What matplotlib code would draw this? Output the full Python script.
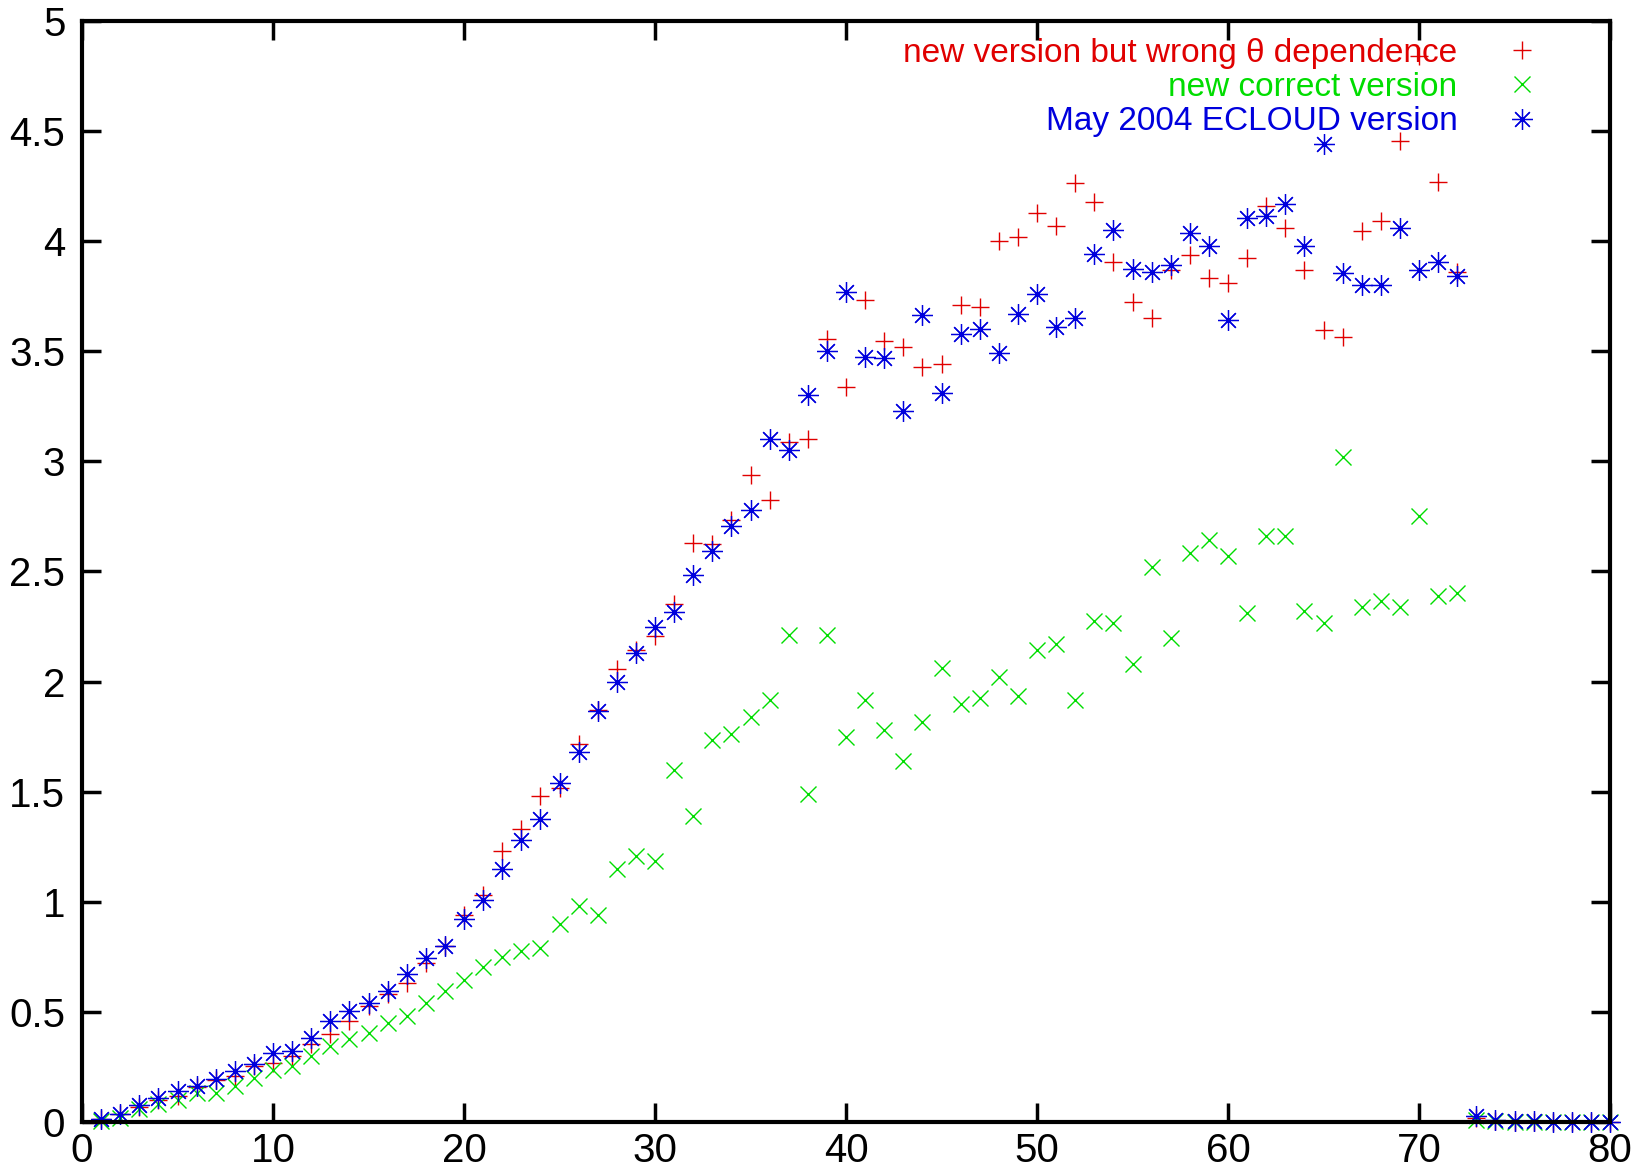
import matplotlib

matplotlib.use("Agg")
import matplotlib.pyplot as plt
import numpy as np

plt.rcParams["font.family"] = ["Liberation Sans", "DejaVu Sans"]

# bunch index 1..80
x = np.arange(1, 81)

wrong_theta = [
    0.015, 0.035, 0.07, 0.10, 0.12, 0.16, 0.19, 0.21, 0.255, 0.27,
    0.30, 0.355, 0.40, 0.46, 0.525, 0.58, 0.63, 0.72, 0.80, 0.94,
    1.03, 1.23, 1.33, 1.48, 1.515, 1.715, 1.87, 2.055, 2.145, 2.205,
    2.35, 2.63, 2.625, 2.735, 2.94, 2.825, 3.09, 3.10, 3.555, 3.34,
    3.735, 3.545, 3.52, 3.43, 3.44, 3.71, 3.70, 4.00, 4.02, 4.13,
    4.07, 4.265, 4.18, 3.905, 3.725, 3.65, 3.87, 3.935, 3.835, 3.81,
    3.925, 4.16, 4.06, 3.87, 3.595, 3.565, 4.045, 4.09, 4.455, 4.84,
    4.27, 3.86, 0.02, 0.005, 0.0, 0.0, 0.0, 0.0, 0.0, 0.0,
]

correct = [
    0.005, 0.02, 0.06, 0.08, 0.10, 0.13, 0.13, 0.165, 0.20, 0.235,
    0.255, 0.30, 0.345, 0.375, 0.405, 0.45, 0.48, 0.54, 0.595, 0.645,
    0.705, 0.75, 0.775, 0.79, 0.90, 0.98, 0.94, 1.15, 1.21, 1.185,
    1.60, 1.39, 1.735, 1.76, 1.84, 1.915, 2.21, 1.49, 2.21, 1.75,
    1.915, 1.78, 1.64, 1.815, 2.06, 1.90, 1.925, 2.02, 1.935, 2.145,
    2.17, 1.915, 2.275, 2.265, 2.08, 2.52, 2.20, 2.585, 2.645, 2.57,
    2.31, 2.66, 2.66, 2.32, 2.265, 3.02, 2.34, 2.365, 2.34, 2.75,
    2.39, 2.40, 0.01, 0.005, 0.0, 0.0, 0.0, 0.0, 0.0, 0.0,
]

ecloud_2004 = [
    0.015, 0.038, 0.075, 0.11, 0.14, 0.165, 0.195, 0.23, 0.265, 0.315,
    0.32, 0.38, 0.46, 0.505, 0.54, 0.595, 0.67, 0.745, 0.80, 0.92,
    1.01, 1.15, 1.28, 1.375, 1.54, 1.68, 1.865, 2.00, 2.13, 2.25,
    2.315, 2.485, 2.595, 2.705, 2.78, 3.10, 3.05, 3.30, 3.50, 3.77,
    3.475, 3.47, 3.23, 3.665, 3.31, 3.58, 3.60, 3.49, 3.67, 3.76,
    3.61, 3.65, 3.94, 4.05, 3.875, 3.86, 3.89, 4.035, 3.98, 3.64,
    4.105, 4.115, 4.17, 3.98, 4.44, 3.855, 3.80, 3.80, 4.06, 3.87,
    3.905, 3.84, 0.025, 0.008, 0.005, 0.003, 0.0, 0.0, 0.0, 0.0,
]

labels = ["new version but wrong \u03b8 dependence",
          "new correct version",
          "May 2004 ECLOUD version"]
colors = ["#e00000", "#00dd00", "#0000dd"]

fig = plt.figure(figsize=(16.5, 11.72), dpi=100)
ax = fig.add_axes([0.0497, 0.0427, 0.9261, 0.9394])

ax.plot(x, wrong_theta, ls="none", marker="+", ms=13, mew=1.0,
        color=colors[0], label=labels[0], clip_on=False)
ax.plot(x, correct, ls="none", marker="x", ms=11, mew=1.0,
        color=colors[1], label=labels[1], clip_on=False)
ax.plot(x, ecloud_2004, ls="none", marker=(8, 2, 0), ms=15, mew=0.9,
        color=colors[2], label=labels[2], clip_on=False)

ax.set_xlim(0, 80)
ax.set_ylim(0, 5)
ax.set_xticks(np.arange(0, 81, 10))
ax.set_yticks(np.arange(0, 5.01, 0.5))
ax.set_yticklabels(["0", "0.5", "1", "1.5", "2", "2.5", "3", "3.5", "4", "4.5", "5"])
ax.tick_params(direction="in", length=14, width=2.5, labelsize=29,
               top=True, right=True)
ax.tick_params(axis="y", pad=12)
ax.tick_params(axis="x", pad=7)
for s in ax.spines.values():
    s.set_linewidth(3)

leg = ax.legend(loc="upper right", markerfirst=False, frameon=False,
                fontsize=24, labelspacing=0.1, handlelength=1.2,
                handletextpad=1.35, borderaxespad=0.3,
                bbox_to_anchor=(0.971, 1.006))
for t, c in zip(leg.get_texts(), colors):
    t.set_color(c)

fig.savefig("out.png", dpi=100, facecolor="white")
